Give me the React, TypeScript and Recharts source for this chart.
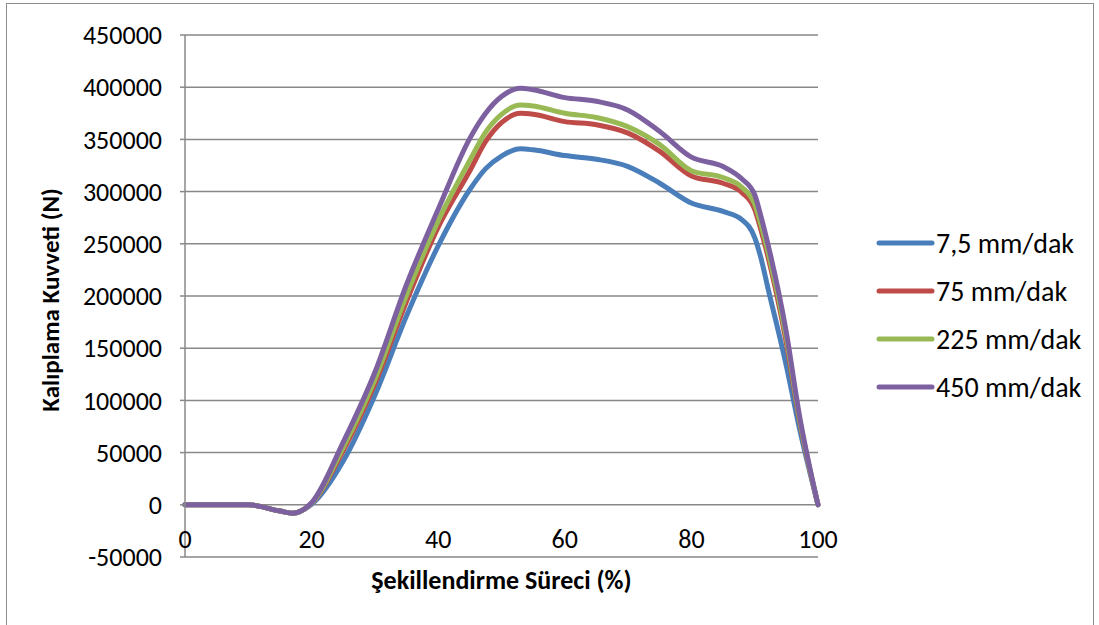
import { LineChart, Line, XAxis, YAxis, CartesianGrid } from 'recharts';

// forming progress (%)
const progress = [0, 5, 10, 15, 17, 20, 25, 30, 35, 40, 45, 47.5, 50, 53, 55, 60, 65, 70, 75, 80, 85, 88, 90, 91, 92, 95, 97, 100];

// die force (N) for each ram speed
const speed7_5 = [0, 0, 0, -6000, -8000, 500, 42000, 105000, 181000, 248000, 302000, 322000, 334000, 341000, 340000, 334500, 331000, 324000, 308000, 289000, 281000, 273000, 256000, 236000, 210000, 133000, 75000, 0];
const speed75 = [0, 0, 0, -6000, -8000, 1500, 52000, 116000, 195000, 266000, 320000, 348000, 366000, 375000, 374000, 367000, 364000, 356000, 338500, 315000, 308000, 299000, 283000, 263000, 240000, 155000, 83000, 0];
const speed225 = [0, 0, 0, -6000, -8000, 1500, 55000, 120000, 201000, 272000, 330000, 357000, 374000, 383000, 382000, 375000, 371000, 362000, 345000, 320000, 313500, 304000, 288000, 268000, 245000, 160000, 85000, 0];
const speed450 = [0, 0, 0, -6000, -8000, 2000, 60000, 127000, 211000, 283000, 351000, 375000, 391000, 399000, 397500, 390000, 386500, 378000, 357500, 333000, 324000, 312000, 297000, 276000, 252000, 165000, 88000, 0];

const xTicks = [0, 20, 40, 60, 80, 100];
const yTicks = [-50000, 0, 50000, 100000, 150000, 200000, 250000, 300000, 350000, 400000, 450000];

const series = [
  { key: 's1', name: '7,5 mm/dak', color: '#4A7EBB', values: speed7_5 },
  { key: 's2', name: '75 mm/dak', color: '#BE4B48', values: speed75 },
  { key: 's3', name: '225 mm/dak', color: '#98B954', values: speed225 },
  { key: 's4', name: '450 mm/dak', color: '#7D60A0', values: speed450 },
];

const data = progress.map((x, i) => {
  const row: Record<string, number> = { x };
  series.forEach(s => {
    row[s.key] = s.values[i];
  });
  return row;
});

const FONT = 'Carlito, Lato, sans-serif';
const GRID = '#888888';

const XTick = (props: any) => {
  const { x, payload } = props;
  return (
    <text x={x} y={548} textAnchor="middle" fontSize={26} fontFamily={FONT} fill="#000">
      {payload.value}
    </text>
  );
};

// legend drawn beside the plot, one row per speed
const LegendBox = () => (
  <div style={{ position: 'absolute', left: 876, top: 219, fontFamily: FONT, fontSize: 28, color: '#000' }}>
    {series.map(s => (
      <div key={s.key} style={{ display: 'flex', alignItems: 'center', height: 48 }}>
        <svg width={60} height={10}>
          <line x1={3} y1={5} x2={56} y2={5} stroke={s.color} strokeWidth={5} strokeLinecap="round" />
        </svg>
        <span>{s.name}</span>
      </div>
    ))}
  </div>
);

const App = () => {
  return (
    <div style={{ position: 'absolute', left: 0, top: 0, width: 1099, height: 625, background: '#fff', overflow: 'hidden' }}>
      <div style={{ position: 'absolute', left: 6, top: 3, width: 1086, height: 660, border: '1.5px solid #8c8c8c' }} />
      <LineChart
        width={1099}
        height={625}
        data={data}
        margin={{ top: 35, right: 281, bottom: 38, left: 0 }}
        style={{ position: 'absolute', left: 0, top: 0 }}
      >
        <CartesianGrid vertical={false} stroke={GRID} strokeWidth={1.5} />
        <XAxis
          dataKey="x"
          type="number"
          domain={[0, 100]}
          ticks={xTicks}
          interval={0}
          height={30}
          axisLine={false}
          tickLine={false}
          tick={<XTick />}
          label={{
            content: (p: any) => (
              <text
                x={p.viewBox.x + p.viewBox.width / 2}
                y={589}
                textAnchor="middle"
                fontSize={26}
                fontWeight="bold"
                fontFamily={FONT}
                fill="#000"
              >
                Şekillendirme Süreci (%)
              </text>
            ),
          }}
        />
        <YAxis
          type="number"
          domain={[-50000, 450000]}
          ticks={yTicks}
          interval={0}
          width={185}
          axisLine={{ stroke: GRID, strokeWidth: 1.5 }}
          tickLine={{ stroke: GRID, strokeWidth: 1.5 }}
          tickSize={5}
          tickMargin={18}
          tick={{ fontSize: 26, fontFamily: FONT, fill: '#000' }}
          label={{
            content: () => {
              const cy = 300;
              return (
                <text
                  x={50}
                  y={cy}
                  transform={`rotate(-90, 50, ${cy})`}
                  textAnchor="middle"
                  dominantBaseline="central"
                  fontSize={25}
                  fontWeight="bold"
                  fontFamily={FONT}
                  fill="#000"
                >
                  Kalıplama Kuvveti (N)
                </text>
              );
            },
          }}
        />
        {series.map(s => (
          <Line
            key={s.key}
            type="monotone"
            dataKey={s.key}
            name={s.name}
            stroke={s.color}
            strokeWidth={5}
            strokeLinecap="round"
            strokeLinejoin="round"
            dot={false}
            activeDot={false}
            isAnimationActive={false}
          />
        ))}
      </LineChart>
      <LegendBox />
    </div>
  );
};

export default App;
